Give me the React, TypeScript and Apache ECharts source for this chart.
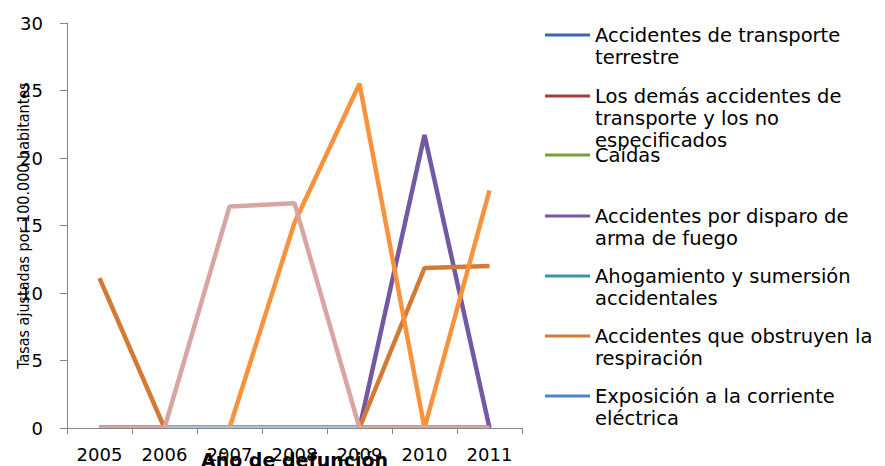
import React, { useEffect, useRef } from "react";
import * as echarts from "echarts";

const years = ["2005", "2006", "2007", "2008", "2009", "2010", "2011"];

const transporteTerrestre = [0, 0, 0, 0, 0, 0, 0];
const demasTransporte = [0, 0, 0, 0, 0, 0, 0];
const caidas = [0, 0, 0, 0, 0, 0, 0];
const armaFuego = [0, 0, 0, 0, 0, 21.7, 0];
const ahogamiento = [0, 0, 0, 0, 0, 0, 0];
const obstruyen = [11.1, 0, 0, 0, 0, 11.85, 12.0];
const corriente = [0, 0, 0, 0, 0, 0, 0];
const envenenamiento = [0, 0, 0, 15.2, 25.5, 0, 17.6];
const humoFuego = [0, 0, 0, 0, 0, 0, 0];
const demasAccidentes = [0, 0, 16.4, 16.65, 0, 0, 0];

const yTicks = { min: 0, max: 30, interval: 5 };

const seriesDefs = [
  { name: "Accidentes de transporte terrestre", data: transporteTerrestre, color: "#3A67A8", legend: "Accidentes de transporte\nterrestre", top: 2, lines: 2 },
  { name: "Los demás accidentes de transporte y los no especificados", data: demasTransporte, color: "#A63C3A", legend: "Los demás accidentes de\ntransporte y los no\nespecificados", top: 41, lines: 3 },
  { name: "Caídas", data: caidas, color: "#77A03A", legend: "Caídas", top: 144, lines: 1 },
  { name: "Accidentes por disparo de arma de fuego", data: armaFuego, color: "#7359A2", legend: "Accidentes por disparo de\narma de fuego", top: 183, lines: 2 },
  { name: "Ahogamiento y sumersión accidentales", data: ahogamiento, color: "#3A94B0", legend: "Ahogamiento y sumersión\naccidentales", top: 243, lines: 2 },
  { name: "Accidentes que obstruyen la respiración", data: obstruyen, color: "#D37A34", legend: "Accidentes que obstruyen la\nrespiración", top: 303, lines: 2 },
  { name: "Exposición a la corriente eléctrica", data: corriente, color: "#4A86C8", legend: "Exposición a la corriente\neléctrica", top: 363, lines: 2 },
  { name: "Envenenamiento accidental por, y exposición a sustancias nocivas", data: envenenamiento, color: "#F9923D" },
  { name: "Exposición al humo, fuego y llamas", data: humoFuego, color: "#A9C0E0" },
  { name: "Los demás accidentes", data: demasAccidentes, color: "#D8A6A2" },
];

const FONT = "'DejaVu Sans', Arial, sans-serif";

export default function App() {
  const ref = useRef<HTMLDivElement>(null);
  useEffect(() => {
    if (!ref.current) return;
    const chart = echarts.init(ref.current, null, { renderer: "svg" });
    const legends = seriesDefs
      .filter((s) => s.legend)
      .map((s) => ({
        left: 545,
        top: s.top,
        orient: "vertical",
        padding: 0,
        itemGap: 0,
        itemWidth: 45,
        itemHeight: 3,
        icon: "rect",
        selectedMode: false,
        data: [s.name],
        formatter: () => "\n".repeat((s.lines as number) - 1) + s.legend,
        textStyle: {
          fontFamily: FONT,
          fontSize: 19.5,
          lineHeight: 22,
          color: "#000",
        },
      }));
    chart.setOption({
      animation: false,
      backgroundColor: "#fff",
      grid: { left: 67, right: 363, top: 23, bottom: 38, containLabel: false, outerBoundsMode: "none" },
      legend: legends,
      graphic: [
        {
          type: "rect",
          left: 68,
          top: 429,
          shape: { width: 455, height: 6 },
          style: { fill: "#fff" },
          z: 5,
          silent: true,
        },
      ],
      xAxis: {
        type: "category",
        data: years,
        boundaryGap: true,
        z: 10,
        name: "Año de defunción",
        nameLocation: "middle",
        nameGap: 22,
        nameMoveOverlap: false,
        nameTextStyle: { fontFamily: FONT, fontSize: 19, fontWeight: "bold", color: "#000" },
        axisLine: { lineStyle: { color: "#868686", width: 1 } },
        axisTick: { show: true, length: 6, interval: 0, lineStyle: { color: "#868686" } },
        axisLabel: { fontFamily: FONT, fontSize: 18, color: "#000", margin: 17, interval: 0 },
        splitLine: { show: false },
      },
      yAxis: {
        type: "value",
        min: yTicks.min,
        max: yTicks.max,
        interval: yTicks.interval,
        z: 10,
        name: "Tasas ajustadas por 100.000 habitantes",
        nameLocation: "middle",
        nameRotate: 90,
        nameGap: 36,
        nameMoveOverlap: false,
        nameTextStyle: {
          fontFamily: "'Liberation Sans Narrow', 'DejaVu Sans Condensed', 'Arial Narrow', sans-serif",
          fontSize: 16,
          color: "#000",
        },
        axisLine: { show: true, lineStyle: { color: "#868686", width: 1 } },
        axisTick: { show: true, length: 7, lineStyle: { color: "#868686" } },
        axisLabel: { fontFamily: FONT, fontSize: 18, color: "#000", margin: 24 },
        splitLine: { show: false },
      },
      series: seriesDefs.map((s) => ({
        name: s.name,
        type: "line",
        data: s.data,
        symbol: "none",
        showSymbol: false,
        clip: true,
        color: s.color,
        itemStyle: { color: s.color },
        lineStyle: { color: s.color, width: 4.5 },
      })),
    });
    return () => chart.dispose();
  }, []);
  return (
    <div
      ref={ref}
      style={{ position: "absolute", left: 0, top: 0, width: 885, height: 466 }}
    />
  );
}
